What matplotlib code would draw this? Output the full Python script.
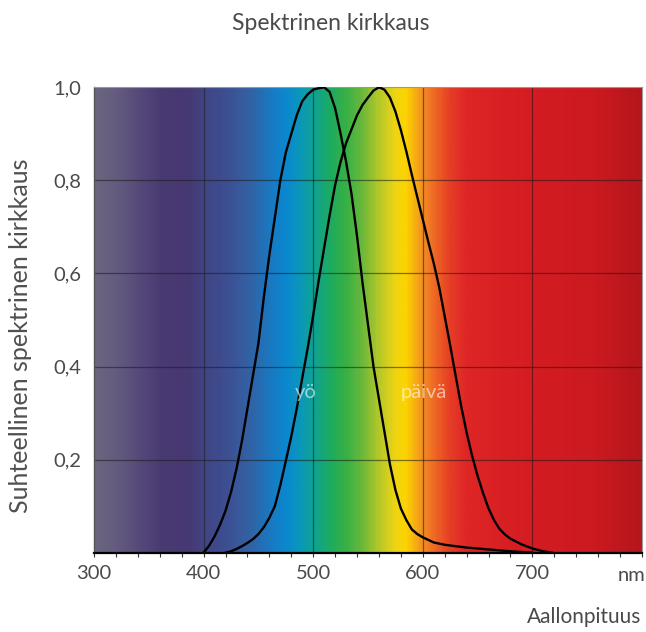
import numpy as np
import matplotlib.pyplot as plt
from matplotlib.colors import LinearSegmentedColormap
from matplotlib.ticker import MultipleLocator

plt.rcParams['font.family'] = ['Lato', 'DejaVu Sans']

# pimeänäkö (yö), luettu kuvasta
wl_yo = [400, 405, 410, 415, 420, 425, 430, 435, 440, 445, 450, 455, 460, 465, 470,
         475, 480, 485, 490, 495, 500, 505, 510, 515, 520, 525, 530, 535, 540, 545,
         550, 555, 560, 565, 570, 575, 580, 585, 590, 595, 600, 610, 620, 640, 660,
         680, 700]
yo = [0.0, 0.015, 0.035, 0.06, 0.09, 0.13, 0.18, 0.24, 0.31, 0.38, 0.45, 0.55, 0.64,
      0.72, 0.80, 0.86, 0.90, 0.94, 0.97, 0.985, 0.995, 0.998, 1.0, 0.99, 0.955, 0.90,
      0.84, 0.77, 0.68, 0.58, 0.49, 0.40, 0.33, 0.26, 0.19, 0.135, 0.095, 0.07, 0.05,
      0.04, 0.033, 0.022, 0.017, 0.011, 0.007, 0.003, 0.0]

# päivänäkö (päivä)
wl_paiva = [420, 425, 430, 435, 440, 445, 450, 455, 460, 465, 470, 475, 480, 485, 490,
            495, 500, 505, 510, 515, 520, 525, 530, 535, 540, 545, 550, 555, 560, 565,
            570, 575, 580, 585, 590, 595, 600, 605, 610, 615, 620, 625, 630, 635, 640,
            645, 650, 655, 660, 665, 670, 675, 680, 690, 700, 710, 718]
paiva = [0.0, 0.003, 0.008, 0.014, 0.021, 0.029, 0.040, 0.055, 0.075, 0.10, 0.145,
         0.197, 0.25, 0.31, 0.375, 0.44, 0.51, 0.585, 0.655, 0.725, 0.79, 0.84, 0.88,
         0.91, 0.94, 0.962, 0.978, 0.993, 1.0, 0.995, 0.978, 0.948, 0.908, 0.862, 0.812,
         0.764, 0.716, 0.668, 0.622, 0.57, 0.508, 0.445, 0.38, 0.315, 0.258, 0.208,
         0.165, 0.128, 0.095, 0.07, 0.051, 0.039, 0.03, 0.018, 0.009, 0.003, 0.0]

# taustan spektrivärit
spec_wl = [300, 320, 340, 360, 385, 400, 420, 440, 460, 475, 490, 500, 515, 530, 545,
           560, 575, 585, 600, 612, 625, 640, 700, 760, 800]
spec_col = ['#6b6580', '#635b7f', '#56497a', '#4a3a72', '#463872', '#414584', '#3c4f92',
            '#3460a2', '#1a78c0', '#0a88d0', '#0a9ab4', '#0fa294', '#1cab62', '#38b044',
            '#6cb83c', '#b4c828', '#eed414', '#fcd400', '#f39022', '#ee6424', '#e63e26',
            '#de2626', '#d41c22', '#ca1a20', '#b4161c']

xticks = [300, 400, 500, 600, 700]
yticks = [0.2, 0.4, 0.6, 0.8, 1.0]
ylabels = ['0,2', '0,4', '0,6', '0,8', '1,0']

txt = '#4a4a4a'

fig = plt.figure(figsize=(6.46, 6.32), dpi=100)
ax = fig.add_axes([94 / 646, 79.3 / 632, 548 / 646, 465.4 / 632])

cmap = LinearSegmentedColormap.from_list(
    'spektri', [((w - 300) / 500, c) for w, c in zip(spec_wl, spec_col)])
grad = np.linspace(300, 800, 600).reshape(1, -1)
ax.imshow(grad, cmap=cmap, vmin=300, vmax=800, extent=(300, 800, 0, 1),
          aspect='auto', zorder=0)

for x in [400, 500, 600, 700]:
    ax.axvline(x, color='#1a1a1a', lw=0.9, alpha=0.55, zorder=1)
for y in [0.2, 0.4, 0.6, 0.8]:
    ax.axhline(y, color='#1a1a1a', lw=0.9, alpha=0.55, zorder=1)

ax.plot(wl_yo, yo, color='black', lw=1.7, zorder=3)
ax.plot(wl_paiva, paiva, color='black', lw=1.7, zorder=3)

ax.text(493, 0.344, 'yö', color='white', alpha=0.6, fontsize=14.5,
        ha='center', va='center', zorder=4)
ax.text(601, 0.344, 'päivä', color='white', alpha=0.6, fontsize=14.5,
        ha='center', va='center', zorder=4)

ax.set_xlim(300, 800)
ax.set_ylim(0, 1.0)
ax.set_xticks(xticks)
ax.set_xticklabels([str(t) for t in xticks])
ax.xaxis.set_minor_locator(MultipleLocator(20))
ax.set_yticks(yticks)
ax.set_yticklabels(ylabels)
ax.tick_params(axis='x', which='both', direction='out', length=3, width=0.8,
               color='#333333', pad=6, labelsize=14.5, labelcolor=txt)
ax.tick_params(axis='y', length=0, pad=9, labelsize=14.5, labelcolor=txt)
ax.text(790, -0.061, 'nm', ha='center', va='baseline', fontsize=14.5, color=txt,
        clip_on=False)

ax.spines['bottom'].set_color('black')
ax.spines['bottom'].set_linewidth(1.6)
ax.spines['left'].set_color('#555555')
ax.spines['left'].set_linewidth(1.0)
for s in ['top', 'right']:
    ax.spines[s].set_color('#999999')
    ax.spines[s].set_linewidth(0.8)

fig.text(331 / 646, 1 - 23 / 632, 'Spektrinen kirkkaus', ha='center', va='center',
         fontsize=16.5, color=txt)
fig.text(21 / 646, 1 - 336 / 632, 'Suhteellinen spektrinen kirkkaus', rotation=90,
         ha='center', va='center', fontsize=18, color='#505050')
fig.text(641 / 646, 1 - 617 / 632, 'Aallonpituus', ha='right', va='center',
         fontsize=15, color=txt)

fig.savefig('out.png', dpi=100)
